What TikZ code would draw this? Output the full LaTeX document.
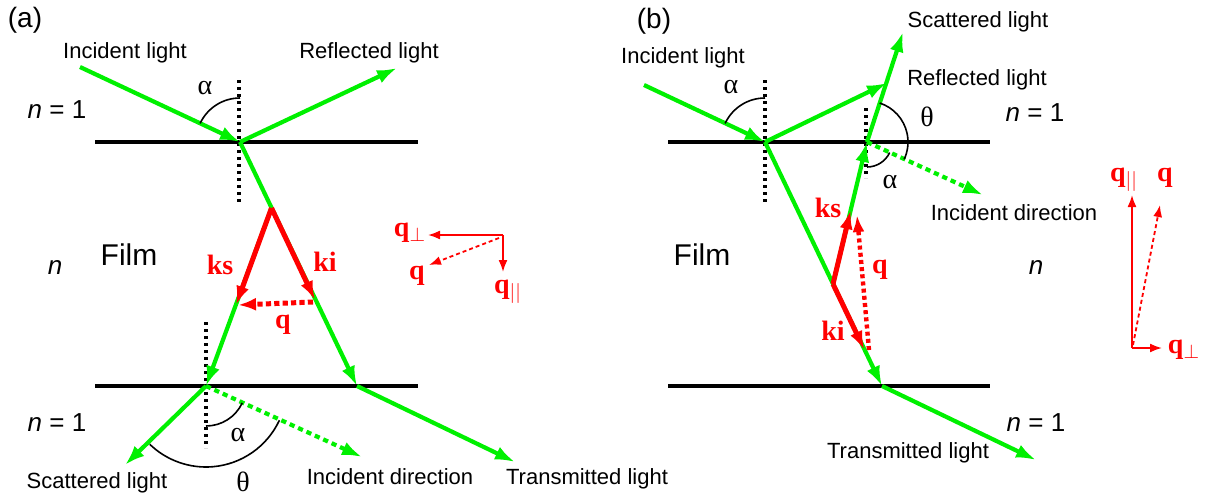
\documentclass[tikz,border=0pt]{standalone}
\usepackage{fontspec}
\setmainfont{Liberation Sans}
\newfontfamily\serifb{Liberation Serif}
\usetikzlibrary{arrows.meta,calc}
\definecolor{lgreen}{RGB}{0,240,0}
\definecolor{vred}{RGB}{255,0,0}
\begin{document}
\begin{tikzpicture}[x=0.5pt,y=-0.5pt,
 surf/.style={line width=2pt, black},
 normline/.style={line width=1.8pt, black, dash pattern=on 1.7pt off 1.8pt},
 ray/.style={line width=2.1pt, lgreen, -{Latex[length=10pt,width=7pt]}},
 raydot/.style={line width=2.1pt, lgreen, dash pattern=on 2.6pt off 2pt, -{Latex[length=10pt,width=7pt]}},
 kvec/.style={line width=2.5pt, vred, -{Latex[length=9.5pt,width=6.5pt]}},
 qvec/.style={line width=2.5pt, vred, dash pattern=on 2.6pt off 1.6pt, -{Latex[length=9pt,width=6.5pt]}},
 qvecb/.style={line width=2.2pt, vred, dash pattern=on 2pt off 1.6pt, -{Latex[length=8.5pt,width=6pt]}},
 tri/.style={line width=0.9pt, vred, -{Latex[length=6pt,width=4.5pt]}},
 tridash/.style={tri, dash pattern=on 2pt off 1.5pt},
 anglearc/.style={line width=0.8pt, black},
 lab/.style={font=\fontsize{11}{13}\selectfont, inner sep=0pt},
 big/.style={font=\fontsize{13}{15}\selectfont, inner sep=0pt},
 film/.style={font=\fontsize{15}{17}\selectfont, inner sep=0pt},
 greek/.style={font=\serifb\fontsize{14}{16}\selectfont, inner sep=0pt},
 vlab/.style={font=\serifb\bfseries\fontsize{14}{16}\selectfont, text=vred, inner sep=0pt},
]
\fill[white] (0,0) rectangle (1223,499);
\useasboundingbox (0,0) rectangle (1223,499);

% ---------------- panel (a) ----------------
\coordinate (LTa) at (95,142);  \coordinate (RTa) at (418,142);
\coordinate (LBa) at (95,386);  \coordinate (RBa) at (418,386);
\coordinate (A1) at (240,142);
\coordinate (Ia) at (80,67);
\coordinate (Ra) at (397,68);
\coordinate (B1) at (206,386);
\coordinate (B2) at (357,386);
\coordinate (P) at (271.5,208);
\coordinate (Ka) at (236,305);
\coordinate (Kia) at (315,300);
\coordinate (Qa1) at (313,302);
\coordinate (Qa2) at (238,305);
\coordinate (Sa) at (125,465);
\coordinate (Da) at (362,457);
\coordinate (Ta) at (515,462);
\coordinate (NTa1) at (239,80);  \coordinate (NTa2) at (239,205);
\coordinate (NBa1) at (206,322); \coordinate (NBa2) at (206,448);
\coordinate (Oa) at (503,235);
\coordinate (OPa) at (428,235);
\coordinate (OLa) at (503,272);
\coordinate (OQa1) at (499,238);
\coordinate (OQa2) at (429,265);

\draw[surf] (LTa) -- (RTa);
\draw[surf] (LBa) -- (RBa);
\draw[normline] (NTa1) -- (NTa2);
\draw[normline] (NBa1) -- (NBa2);
\draw[ray] (Ia) -- (A1);
\draw[ray] (A1) -- (Ra);
\draw[ray] (A1) -- (B2);
\draw[ray] (P) -- (B1);
\draw[ray] (B1) -- (Sa);
\draw[raydot] (B1) -- (Da);
\draw[ray] (B2) -- (Ta);
\draw[kvec] (P) -- (Ka);
\draw[kvec] (P) -- (Kia);
\draw[qvec] (Qa1) -- (Qa2);
\draw[tri] (Oa) -- (OPa);
\draw[tri] (Oa) -- (OLa);
\draw[tridash] (OQa1) -- (OQa2);

\draw[anglearc] (A1) ++(205:44) arc[start angle=205, end angle=270, radius=44];
\draw[anglearc] (B1) ++(25:40) arc[start angle=25, end angle=90, radius=40];
\draw[anglearc] (B1) ++(25:81) arc[start angle=25, end angle=134, radius=81];

\node[big, font=\fontsize{14}{16}\selectfont] (la) at (25,20) {(a)};
\node[lab] (tIa) at (125,53) {Incident light};
\node[lab] (tRa) at (369,53) {Reflected light};
\node[big] (n1a) at (57,110) {\textit{n} = 1};
\node[greek] (alA) at (205,88) {α};
\node[film] (filma) at (129,255) {Film};
\node[big] (na) at (55,268) {\textit{n}};
\node[vlab] (ksa) at (220,265) {ks};
\node[vlab] (kia) at (325,262) {ki};
\node[vlab] (qa) at (283,325) {q};
\node[vlab] (qpa) at (410,233) {q$_{\perp}$};
\node[vlab] (qqa) at (417,276) {q};
\node[vlab] (qla) at (508,292) {q$_{||}$};
\node[big] (n2a) at (57,423) {\textit{n} = 1};
\node[greek] (alB) at (238,435) {α};
\node[greek] (thA) at (243,482) {θ};
\node[lab] (tSa) at (97,483) {Scattered light};
\node[lab] (tDa) at (390,477) {Incident direction};
\node[lab] (tTa) at (587,479) {Transmitted light};

% ---------------- panel (b) ----------------
\coordinate (LTb) at (668,142);  \coordinate (RTb) at (990,142);
\coordinate (LBb) at (668,386);  \coordinate (RBb) at (990,386);
\coordinate (A1b) at (765,142);
\coordinate (Ib) at (644,85);
\coordinate (Rb) at (887,83);
\coordinate (B2b) at (882,386);
\coordinate (S) at (833,284);
\coordinate (E) at (867,142);
\coordinate (Ub) at (903,32);
\coordinate (Kb) at ($(S)!0.52!(E)$);
\coordinate (Kib) at (864.5,350);
\coordinate (Qb1) at (869,350);
\coordinate (Qb2) at (857,215);
\coordinate (Db) at (983,195);
\coordinate (Tb) at (1036,460);
\coordinate (NTb1) at (765,80);  \coordinate (NTb2) at (765,205);
\coordinate (NEb1) at (866,108); \coordinate (NEb2) at (866,178);
\coordinate (Ob) at (1132,348);
\coordinate (OLb) at (1132,195);
\coordinate (OPb) at (1162,348);
\coordinate (OQb1) at (1133,345);
\coordinate (OQb2) at (1160,205);

\draw[surf] (LTb) -- (RTb);
\draw[surf] (LBb) -- (RBb);
\draw[normline] (NTb1) -- (NTb2);
\draw[normline] (NEb1) -- (NEb2);
\draw[ray] (Ib) -- (A1b);
\draw[ray] (A1b) -- (Rb);
\draw[ray] (A1b) -- (B2b);
\draw[ray] (S) -- (E);
\draw[ray] (E) -- (Ub);
\draw[raydot] (E) -- (Db);
\draw[ray] (B2b) -- (Tb);
\draw[kvec] (S) -- (Kb);
\draw[kvec] (S) -- (Kib);
\draw[qvecb] (Qb1) -- (Qb2);
\draw[tri] (Ob) -- (OLb);
\draw[tri] (Ob) -- (OPb);
\draw[tridash] (OQb1) -- (OQb2);

\draw[anglearc] (A1b) ++(205:44) arc[start angle=205, end angle=270, radius=44];
\draw[anglearc] (E) ++(-72:41) arc[start angle=-72, end angle=25, radius=41];
\draw[anglearc] (E) ++(25:25) arc[start angle=25, end angle=90, radius=25];

\node[big, font=\fontsize{14}{16}\selectfont] (lb) at (654,21) {(b)};
\node[lab] (tIb) at (683,58) {Incident light};
\node[lab] (tUb) at (978,22) {Scattered light};
\node[lab] (tRb) at (977,80) {Reflected light};
\node[greek] (alC) at (731,87) {α};
\node[greek] (thB) at (927,117) {θ};
\node[big] (n1b) at (1035,113) {\textit{n} = 1};
\node[greek] (alD) at (890,182) {α};
\node[lab] (tDb) at (1014,213) {Incident direction};
\node[film] (filmb) at (702,255) {Film};
\node[big] (nb) at (1036,268) {\textit{n}};
\node[vlab] (ksb) at (828,208) {ks};
\node[vlab] (qb) at (880,270) {q};
\node[vlab] (kib) at (833,331) {ki};
\node[vlab] (qlb) at (1124,180) {q$_{||}$};
\node[vlab] (qqb) at (1165,178) {q};
\node[vlab] (qpb) at (1184,350) {q$_{\perp}$};
\node[big] (n2b) at (1036,423) {\textit{n} = 1};
\node[lab] (tTb) at (908,453) {Transmitted light};
\end{tikzpicture}
\end{document}
